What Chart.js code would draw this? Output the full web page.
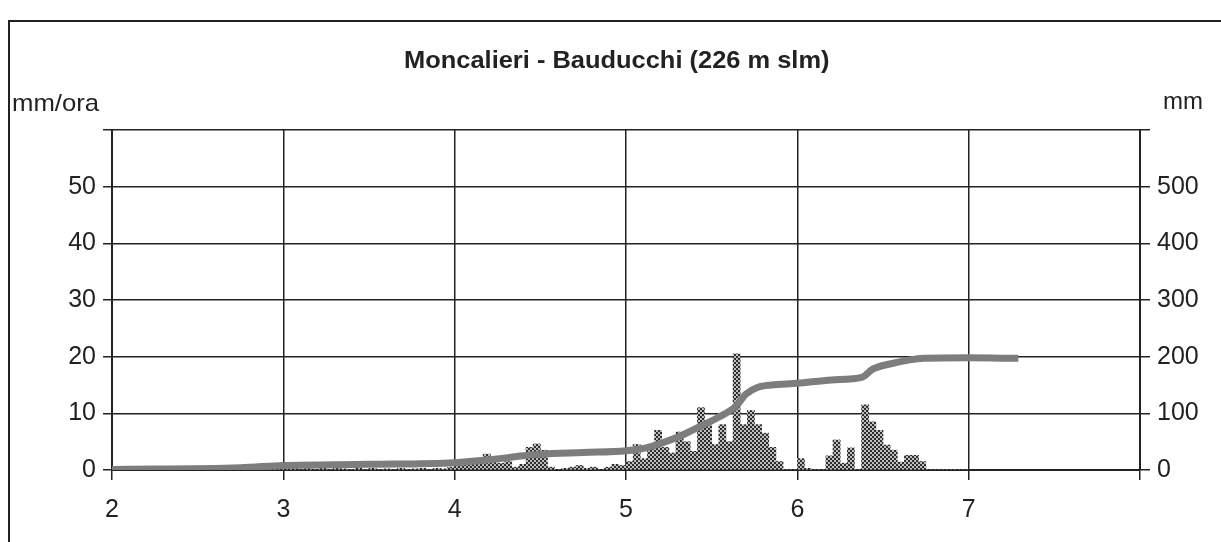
<!DOCTYPE html>
<html>
<head>
<meta charset="utf-8">
<script src="https://cdn.jsdelivr.net/npm/chart.js@4/dist/chart.umd.min.js"></script>
<style>
  body { margin: 0; background: #fff; }
  #wrap { position: relative; width: 1221px; height: 542px; overflow: hidden; font-family: "Liberation Sans", Arial, sans-serif; color: #222; }
  #frame { position: absolute; left: 8px; top: 20px; width: 1230px; height: 540px; border: 2px solid #222; box-sizing: border-box; }
  #chart { position: absolute; left: 0; top: 0; }
  .lbl { position: absolute; font-size: 24px; white-space: nowrap; transform-origin: left center; }
  #title { position: absolute; left: 404px; top: 46px; font-size: 24px; font-weight: bold; white-space: nowrap; transform: scaleX(1.06); transform-origin: left center; }
</style>
</head>
<body>
<div id="wrap">
  <div id="frame"></div>
  <canvas id="chart" width="1221" height="542"></canvas>
  <div id="title">Moncalieri - Bauducchi (226 m slm)</div>
  <div class="lbl" style="left:12px; top:89px; transform: scaleX(1.07);">mm/ora</div>
  <div class="lbl" style="left:1163px; top:87px;">mm</div>
</div>
<script>
// hourly rain (mm/ora), 24 values per day
const days = [2, 3, 4, 5, 6];
const rain_day2 = [0, 0, 0, 0, 0, 0, 0, 0, 0, 0, 0, 0, 0, 0, 0, 0, 0, 0, 0.5, 1, 0.6, 1, 0.6, 1.1];
const rain_day3 = [0.4, 0.3, 0, 0.3, 0, 0.3, 0, 0.3, 0.2, 0, 0.3, 0, 0.3, 0, 0.2, 0, 0.3, 0, 0.2, 0.3, 0, 0.3, 0.2, 0.5];
const rain_day4 = [1, 1.5, 2, 1.5, 2.8, 1.5, 1.2, 1.5, 0.5, 1, 4, 4.6, 3.5, 0.5, 0, 0.3, 0.5, 0.8, 0.3, 0.5, 0, 0.5, 1, 0.8];
const rain_day5 = [1.5, 4.5, 2, 4, 7, 4, 3, 6.7, 5, 3.3, 11, 8, 4.5, 8, 5, 20.5, 8, 10.5, 8, 6.5, 4, 1.5, 0, 0];
const rain_day6 = [2, 0.3, 0, 0, 2.5, 5.3, 1.2, 3.9, 0, 11.5, 8.5, 7, 4.4, 3.5, 1.4, 2.6, 2.6, 1.5, 0, 0, 0, 0, 0, 0];
const rain_by_day = [rain_day2, rain_day3, rain_day4, rain_day5, rain_day6];

// cumulative rain (mm), right axis
const cum_x = [2.0, 2.75, 3.0, 3.5, 4.0, 4.2, 4.4, 4.5, 4.75, 5.0, 5.14, 5.31, 5.42, 5.54, 5.64, 5.7, 5.77, 5.85, 6.0, 6.2, 6.38, 6.44, 6.54, 6.74, 7.0, 7.29];
const cum_y = [1, 4, 8, 10, 13, 18, 25, 28, 31, 34, 41, 59, 75, 93, 112, 134, 146, 150, 153, 159, 164, 178, 187, 197, 198, 197];

// ticks
const x_ticks = [2, 3, 4, 5, 6, 7];
const left_ticks = [0, 10, 20, 30, 40, 50];
const right_ticks = [0, 100, 200, 300, 400, 500];

// bar points, each hour centred in its slot
let rain_points = [];
days.forEach((d, i) => {
  rain_by_day[i].forEach((v, h) => {
    rain_points.push({ x: d + (h + 0.5) / 24, y: v });
  });
});
let cum_points = cum_x.map((x, i) => ({ x: x, y: cum_y[i] }));

// stippled fill like the print
function makeStipple() {
  const c = document.createElement("canvas");
  c.width = 4;
  c.height = 4;
  const g = c.getContext("2d");
  g.fillStyle = "#bdbdbd";
  g.fillRect(0, 0, 4, 4);
  g.fillStyle = "#2e2e2e";
  g.fillRect(0, 0, 2, 2);
  g.fillRect(2, 2, 2, 2);
  return g.createPattern(c, "repeat");
}

const ink = "#222";
const tickFont = { family: "'Liberation Sans', Arial, sans-serif", size: 25 };

const config = {
  data: {
    datasets: [
      {
        type: "line",
        label: "mm",
        data: cum_points,
        yAxisID: "yR",
        borderColor: "#7d7d7d",
        borderWidth: 7,
        pointRadius: 0,
        cubicInterpolationMode: "monotone",
        order: 0,
      },
      {
        type: "bar",
        label: "mm/ora",
        data: rain_points,
        yAxisID: "yL",
        backgroundColor: makeStipple(),
        borderWidth: 0,
        barPercentage: 1.0,
        categoryPercentage: 1.0,
        order: 1,
      },
    ],
  },
  options: {
    responsive: false,
    animation: false,
    devicePixelRatio: 1,
    layout: { padding: { top: 130, left: 0, right: 0, bottom: 0 } },
    plugins: { legend: { display: false }, tooltip: { enabled: false }, title: { display: false } },
    scales: {
      x: {
        type: "linear",
        min: 2,
        max: 8,
        offset: false,
        afterFit: (s) => { s.height = 72; },
        ticks: {
          stepSize: 1,
          color: ink,
          font: tickFont,
          padding: 15,
          maxRotation: 0,
          callback: (v) => (x_ticks.includes(v) ? String(v) : ""),
        },
        grid: { offset: false, color: ink, lineWidth: 1.5, tickLength: 10, tickColor: ink },
        border: { color: ink, width: 2 },
      },
      yL: {
        type: "linear",
        position: "left",
        min: 0,
        max: 60,
        afterFit: (s) => { s.width = 112; },
        ticks: {
          stepSize: 5,
          color: ink,
          font: tickFont,
          padding: 7,
          callback: (v) => (left_ticks.includes(v) ? String(v) : ""),
        },
        grid: {
          color: (c) => (c.tick && c.tick.value % 10 === 0 ? ink : "rgba(0,0,0,0)"),
          tickColor: ink,
          lineWidth: 1.5,
          tickLength: 9,
        },
        border: { color: ink, width: 2 },
      },
      yR: {
        type: "linear",
        position: "right",
        min: 0,
        max: 600,
        afterFit: (s) => { s.width = 81; },
        ticks: {
          stepSize: 50,
          color: ink,
          font: tickFont,
          padding: 7,
          callback: (v) => (right_ticks.includes(v) ? String(v) : ""),
        },
        grid: { drawOnChartArea: false, tickColor: ink, lineWidth: 1.5, tickLength: 10 },
        border: { color: ink, width: 2 },
      },
    },
  },
};

const ctx = document.getElementById("chart").getContext("2d");
new Chart(ctx, config);
</script>
</body>
</html>
